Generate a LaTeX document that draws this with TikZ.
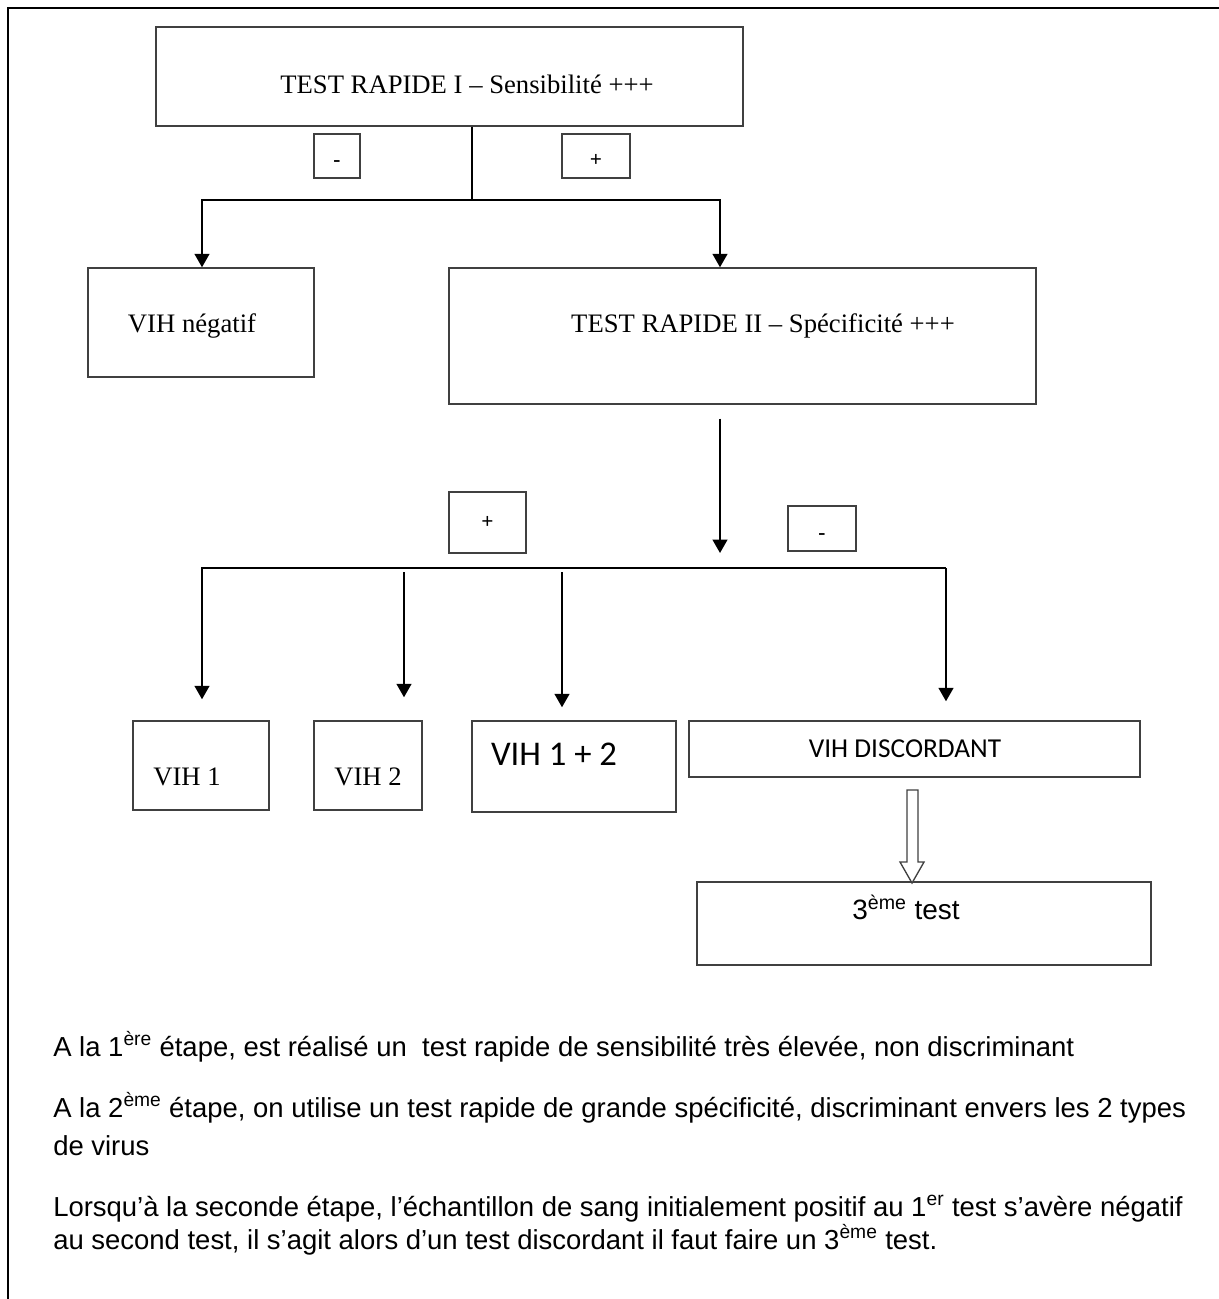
\documentclass[tikz,border=0pt]{standalone}
\usepackage{fontspec}
\setmainfont{Liberation Serif}
\setsansfont{Liberation Sans}
\newfontfamily\calibrifont{Carlito}
\usetikzlibrary{arrows.meta}

\tikzset{
  flowbox/.style={draw=black!75, line width=1.1pt, inner sep=0pt},
  bx/.style 2 args={minimum width=#1*0.75pt, minimum height=#2*0.75pt},
  conn/.style={line width=1.5pt},
  arr/.style={conn, -{Triangle[width=11pt,length=10pt]}},
  txtserif/.style={font=\fontsize{20}{24}\selectfont, inner sep=0pt},
  txtcal/.style={font=\calibrifont\fontsize{20.5}{24}\selectfont, inner sep=0pt},
  txtsans/.style={font=\sffamily\fontsize{20.6}{24}\selectfont, inner sep=0pt, anchor=base west},
  sign/.style={font=\bfseries\fontsize{16}{18}\selectfont, text height=16pt, text depth=0pt}
}

\begin{document}
\begin{tikzpicture}[x=0.75pt,y=0.75pt,yscale=-1,xscale=1]
        \useasboundingbox (0,0) rectangle (1219,1299);
        \draw [line width=1.5pt] (1219,8) -- (8,8) -- (8,1299) ;
        % first test
        \node [flowbox, bx={587}{99}] (t1) at (449.5,76.5) {};
        \node [txtserif] (t1txt) at (467,84) {TEST RAPIDE I -- Sensibilité +++};
        \node [flowbox, bx={46}{44}, sign] (m1) at (337,156) {-};
        \node [flowbox, bx={68}{44}, sign] (p1) at (596,156) {+};
        \node [flowbox, bx={226}{109}] (neg) at (201,322.5) {};
        \node [txtserif] (negtxt) at (192,326) {VIH négatif};
        \node [flowbox, bx={587}{136}] (t2) at (742.5,336) {};
        \node [txtserif] (t2txt) at (763,326) {TEST RAPIDE II -- Spécificité +++};
        \coordinate (j1) at (472,200);
        \coordinate (jL) at (202,200);
        \coordinate (jR) at (720,200);
        \draw [conn] (t1.south -| j1) -- (j1) ;
        \draw [arr] (j1) -- (jL) -- (jL |- neg.north) ;
        \draw [arr] (j1) -- (jR) -- (jR |- t2.north) ;
        % second test
        \coordinate (a2) at (720,553);
        \draw [arr, shorten <=10.5pt] (t2.south -| a2) -- (a2) ;
        \node [flowbox, bx={77}{61}, font=\bfseries\fontsize{16}{18}\selectfont] (p2) at (487.5,522.5) {+};
        \node [flowbox, bx={68}{45}, sign] (m2) at (822,528.5) {-};
        \node [flowbox, bx={136}{89}] (v1) at (201,765.5) {};
        \node [txtserif] (v1txt) at (187,777) {VIH 1};
        \node [flowbox, bx={108}{89}] (v2) at (368,765.5) {};
        \node [txtserif] (v2txt) at (368,777) {VIH 2};
        \node [flowbox, bx={204}{91}] (v12) at (574,766.5) {};
        \node [txtcal, font=\calibrifont\fontsize{26}{30}\selectfont] (v12txt) at (554,754) {VIH 1 + 2};
        \node [flowbox, bx={451}{56}] (dis) at (914.5,749) {};
        \node [txtcal] (distxt) at (905,749) {VIH DISCORDANT};
        \coordinate (b1) at (202,568);
        \coordinate (b2) at (404,568);
        \coordinate (b3) at (562,568);
        \coordinate (b4) at (946,568);
        \draw [arr, shorten >=15.75pt] (b4) -- (b1) -- (b1 |- v1.north) ;
        \draw [arr, shorten <=3pt, shorten >=17.25pt] (b2) -- (b2 |- v2.north) ;
        \draw [arr, shorten <=3pt, shorten >=9.75pt] (b3) -- (b3 |- v12.north) ;
        \draw [arr, shorten >=14.25pt] (b4) -- (b4 |- dis.north) ;
        % third test
        \node [flowbox, bx={454}{83}] (t3) at (924,923.5) {};
        \node [txtsans, anchor=center, font=\sffamily\fontsize{21}{24}\selectfont] (t3txt) at (906,907) {3\textsuperscript{ème} test};
        \draw [line width=1pt, draw=black!75, fill=white] (907,790) -- (907,862) -- (900,862) -- (912,883) -- (924,862) -- (918,862) -- (918,790) -- cycle ;
        % notes
        \node [txtsans] (n1) at (53,1056) {A la 1\textsuperscript{ère} étape, est réalisé un\ \ test rapide de sensibilité très élevée, non discriminant};
        \node [txtsans] (n2) at (53,1117) {A la 2\textsuperscript{ème} étape, on utilise un test rapide de grande spécificité, discriminant envers les 2 types};
        \node [txtsans] (n3) at (53,1155) {de virus};
        \node [txtsans] (n4) at (53,1216) {Lorsqu’à la seconde étape, l’échantillon de sang initialement positif au 1\textsuperscript{er} test s’avère négatif};
        \node [txtsans] (n5) at (53,1249) {au second test, il s’agit alors d’un test discordant il faut faire un 3\textsuperscript{ème} test.};
\end{tikzpicture}
\end{document}
